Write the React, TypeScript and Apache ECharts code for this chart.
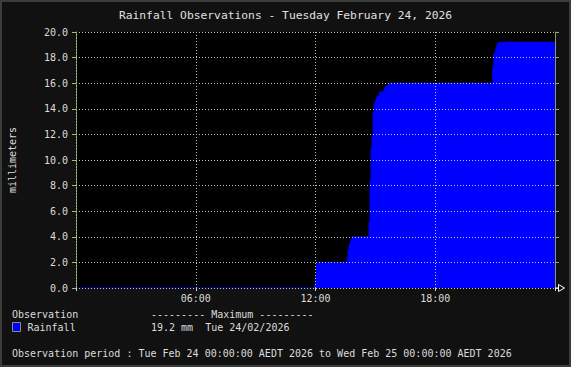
import React, { useEffect, useRef } from "react";
import * as echarts from "echarts";

// minutes since midnight, Tue 24/02/2026
const times = [0, 714, 717, 720, 723, 726, 812, 815, 818, 821, 824, 827, 830, 878, 881, 884, 887, 890, 893, 896, 899, 902, 905, 911, 914, 926, 929, 932, 938, 944, 1250, 1253, 1256, 1259, 1262, 1265, 1268, 1271, 1440];
// cumulative rainfall (mm)
const rainfall = [0, 0, 0.2, 1.0, 1.8, 2.0, 2.0, 2.4, 3.0, 3.4, 3.6, 3.8, 4.0, 4.0, 5.2, 8.4, 10.9, 11.9, 13.7, 14.4, 14.6, 14.8, 14.95, 15.3, 15.35, 15.5, 15.65, 15.8, 15.9, 16.0, 16.0, 17.2, 18.3, 18.4, 18.7, 19.0, 19.1, 19.2, 19.2];
const xTickLabels = ["", "06:00", "12:00", "18:00", ""];
const yTicks = [0, 2, 4, 6, 8, 10, 12, 14, 16, 18, 20];

const TITLE = "Rainfall Observations - Tuesday February 24, 2026";
const MONO = "'DejaVu Sans Mono', 'Liberation Mono', monospace";
const TXT = "#dcdcdc";
const GRIDC = "#b8d0a8";
const OLIVE = "#8e9a5a";

export default function App() {
  const ref = useRef<HTMLDivElement>(null);
  useEffect(() => {
    if (!ref.current) return;
    const chart = echarts.init(ref.current, null, { renderer: "svg" });
    const maxVal = Math.max(...rainfall);
    const data = times.map((t, i) => [t, rainfall[i]]);
    chart.setOption({
      animation: false,
      backgroundColor: "#111111",
      title: {
        text: TITLE,
        left: "center",
        top: 10,
        padding: 0,
        textStyle: { fontFamily: MONO, fontSize: 11.3, fontWeight: "normal", color: "#e0e0e0" },
      },
      legend: {
        data: ["Rainfall"],
        left: 12,
        top: 322,
        padding: 0,
        icon: "rect",
        itemWidth: 8,
        itemHeight: 9,
        itemStyle: { borderColor: "#8a8a8a", borderWidth: 1 },
        textStyle: { fontFamily: MONO, fontSize: 10, color: TXT, padding: [0, 0, 0, 2] },
      },
      grid: {
        left: 76,
        right: 16,
        top: 32,
        bottom: 79,
        show: true,
        backgroundColor: "#000000",
        borderWidth: 0,
        containLabel: false,
        outerBoundsMode: "none",
        z: 0,
      },
      xAxis: {
        type: "value",
        min: 0,
        max: 1440,
        interval: 360,
        z: 5,
        axisLine: { show: false },
        axisTick: { show: true, length: 3, lineStyle: { color: "#c8d8e8" } },
        axisLabel: {
          fontFamily: MONO,
          fontSize: 10,
          color: TXT,
          margin: 5,
          formatter: (v: number) => xTickLabels[Math.round(v / 360)] ?? "",
        },
        splitLine: { show: true, lineStyle: { color: GRIDC, type: [1, 2], width: 1 } },
      },
      yAxis: [
        {
          type: "value",
          min: 0,
          max: 20,
          interval: 2,
          z: 5,
          name: "millimeters",
          nameLocation: "middle",
          nameRotate: 90,
          nameGap: 59,
          nameTextStyle: { fontFamily: MONO, fontSize: 10, color: TXT },
          axisLine: { show: true, lineStyle: { color: "#9cc070", type: [2, 1] } },
          axisTick: { show: true, length: 4, lineStyle: { color: "#9cc070" } },
          axisLabel: {
            fontFamily: MONO,
            fontSize: 10,
            color: TXT,
            margin: 8,
            formatter: (v: number) => (yTicks.includes(v) ? v.toFixed(1) : ""),
          },
          splitLine: { show: true, lineStyle: { color: GRIDC, type: [1, 2], width: 1 } },
        },
        {
          type: "value",
          position: "right",
          min: 0,
          max: 20,
          interval: 2,
          z: 5,
          axisLine: { show: true, lineStyle: { color: OLIVE, width: 1 } },
          axisTick: { show: true, length: 4, lineStyle: { color: "#8fb070" } },
          axisLabel: { show: false },
          splitLine: { show: false },
        },
      ],
      series: [
        {
          name: "Rainfall",
          type: "line",
          step: "end",
          data,
          z: 1,
          showSymbol: false,
          symbol: "none",
          itemStyle: { color: "#0000ff" },
          lineStyle: { color: "#0000ff", width: 1 },
          areaStyle: { color: "#0000ff", opacity: 1 },
        },
      ],
      graphic: [
        {
          type: "rect",
          shape: { x: 1, y: 1, width: 569, height: 365 },
          style: { fill: "none", stroke: "#3c3c3c", lineWidth: 2 },
          z: 10,
        },
        {
          type: "polyline",
          shape: { points: [[555, 288], [558, 288]] },
          style: { stroke: "#ffffff", lineWidth: 1 },
          z: 10,
        },
        {
          type: "polygon",
          shape: { points: [[558.5, 284.5], [564.5, 288], [558.5, 291.5]] },
          style: { fill: "none", stroke: "#ffffff", lineWidth: 1 },
          z: 10,
        },
        {
          type: "text",
          x: 12,
          y: 314,
          style: { text: "Observation", fill: TXT, font: `10px ${MONO}`, verticalAlign: "middle" },
        },
        {
          type: "text",
          x: 151,
          y: 314,
          style: { text: "--------- Maximum ---------", fill: TXT, font: `10px ${MONO}`, verticalAlign: "middle" },
        },
        {
          type: "text",
          x: 151,
          y: 327,
          style: {
            text: `${maxVal.toFixed(1)} mm  Tue 24/02/2026`,
            fill: TXT,
            font: `10px ${MONO}`,
            verticalAlign: "middle",
          },
        },
        {
          type: "text",
          x: 12,
          y: 353,
          style: {
            text: "Observation period : Tue Feb 24 00:00:00 AEDT 2026 to Wed Feb 25 00:00:00 AEDT 2026",
            fill: TXT,
            font: `10px ${MONO}`,
            verticalAlign: "middle",
          },
        },
      ],
    });
    return () => chart.dispose();
  }, []);
  return (
    <div
      ref={ref}
      style={{ position: "fixed", left: 0, top: 0, width: 571, height: 367 }}
    />
  );
}
